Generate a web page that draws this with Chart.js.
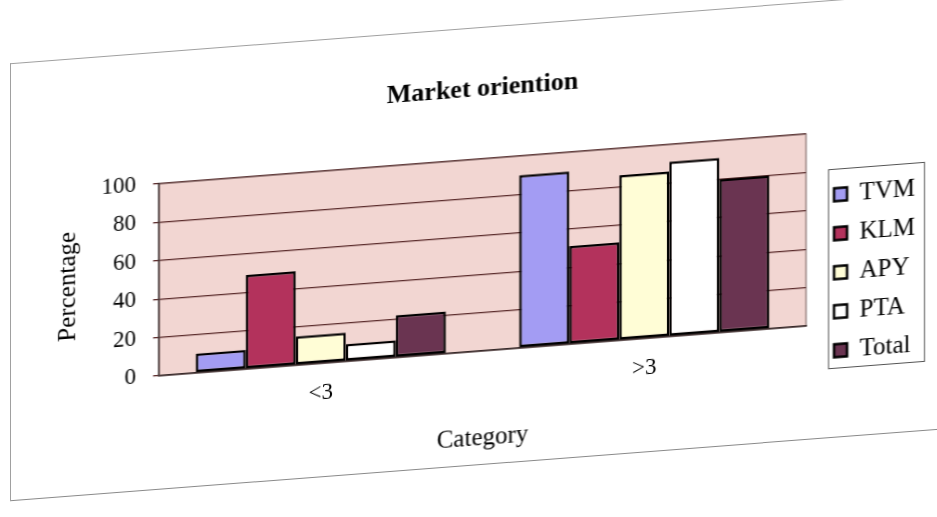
<!DOCTYPE html>
<html><head><meta charset="utf-8">
<script src="https://cdn.jsdelivr.net/npm/chart.js@4/dist/chart.umd.min.js"></script>
<style>
html,body{margin:0;padding:0;background:#fff;overflow:hidden;width:937px;height:517px;}
#wrap{position:absolute;left:0;top:0;width:937px;height:517px;transform:skewY(-4.4deg);transform-origin:0 0;}
#frame{position:absolute;left:10px;top:64px;width:948px;height:436px;border-left:1px solid #a0a0a0;border-top:1px solid #a0a0a0;border-bottom:1px solid #8a8a8a;}
canvas{display:block;}
</style></head><body>
<div id="wrap"><div id="frame"><canvas id="c" width="948" height="436"></canvas></div></div>
<script>
const chartTitle = 'Market oriention';
const xTitle = 'Category';
const yTitle = 'Percentage';
const categories = ['<3', '>3'];
const seriesNames = ['TVM', 'KLM', 'APY', 'PTA', 'Total'];
const tvm = [10, 90];
const klm = [49, 51];
const apy = [15, 86];
const pta = [9, 91];
const total = [22, 80];
const yTicks = [0, 20, 40, 60, 80, 100];
const seriesColors = ['#A39CF3', '#B3325C', '#FFFDD6', '#FFFFFF', '#6A3451'];

const seriesValues = [tvm, klm, apy, pta, total];
const FONT = "'Liberation Serif', 'Times New Roman', serif";
Chart.defaults.font.family = FONT;
Chart.defaults.color = '#000';

const plotBg = {
  id: 'plotBg',
  beforeDraw(chart) {
    const a = chart.chartArea, ctx = chart.ctx;
    ctx.save();
    ctx.fillStyle = '#F2D6D2';
    ctx.fillRect(a.left, a.top, a.right - a.left, a.bottom - a.top);
    ctx.restore();
  },
  beforeDatasetsDraw(chart) {
    const a = chart.chartArea, ctx = chart.ctx;
    ctx.save();
    ctx.strokeStyle = '#6b5050';
    ctx.lineWidth = 1;
    ctx.strokeRect(a.left, a.top, a.right - a.left, a.bottom - a.top);
    ctx.restore();
  }
};

// places the built-in legend inside its framed box and draws the frame
const legendFrame = {
  id: 'legendFrame',
  afterLayout(chart) {
    const lg = chart.legend;
    const w = lg.right - lg.left;
    lg.left = 809; lg.right = 809 + w;
    lg.top = 167.5;
  },
  afterDraw(chart) {
    const ctx = chart.ctx;
    ctx.save();
    ctx.strokeStyle = '#555';
    ctx.lineWidth = 1;
    ctx.strokeRect(817.5, 168.5, 96, 199);
    ctx.restore();
  }
};

new Chart(document.getElementById('c'), {
  type: 'bar',
  data: {
    labels: categories,
    datasets: seriesNames.map((n, i) => ({
      label: n,
      data: seriesValues[i],
      backgroundColor: seriesColors[i],
      borderColor: '#000',
      borderWidth: 2.5,
      borderSkipped: false,
      categoryPercentage: 0.773,
      barPercentage: 1.0
    }))
  },
  options: {
    responsive: false,
    animation: false,
    devicePixelRatio: 1,
    layout: { padding: { left: 0, right: 58, top: 0, bottom: 11 } },
    plugins: {
      legend: {
        display: true,
        position: 'right',
        align: 'start',
        fullSize: true,
        maxWidth: 95,
        labels: {
          font: { size: 25, family: FONT },
          color: '#000',
          boxWidth: 13,
          boxHeight: 13,
          padding: 14
        }
      },
      tooltip: { enabled: false },
      title: {
        display: true,
        fullSize: false,
        text: chartTitle,
        color: '#000',
        font: { size: 26, weight: 'bold', family: FONT },
        padding: { top: 46, bottom: 53.8 }
      }
    },
    scales: {
      x: {
        grid: { display: false, drawTicks: false },
        border: { display: true, color: '#000', width: 1.5 },
        ticks: { font: { size: 23 }, padding: 16, color: '#000' },
        title: { display: true, text: xTitle, font: { size: 25 }, color: '#000', padding: { top: 0, bottom: 0 } },
        afterFit(s) { s.height = 102; }
      },
      y: {
        min: 0, max: 100,
        afterBuildTicks(s) { s.ticks = yTicks.map(v => ({ value: v })); },
        grid: { color: '#5a2b2b', lineWidth: 1.3, tickLength: 6, drawTicks: true },
        border: { display: true, color: '#000', width: 1.5 },
        ticks: { font: { size: 23 }, padding: 17, color: '#000' },
        title: { display: true, text: yTitle, font: { size: 25 }, color: '#000', padding: { top: 42, bottom: 0 } },
        afterFit(s) { s.width = 148; }
      }
    }
  },
  plugins: [plotBg, legendFrame]
});
</script>
</body></html>
